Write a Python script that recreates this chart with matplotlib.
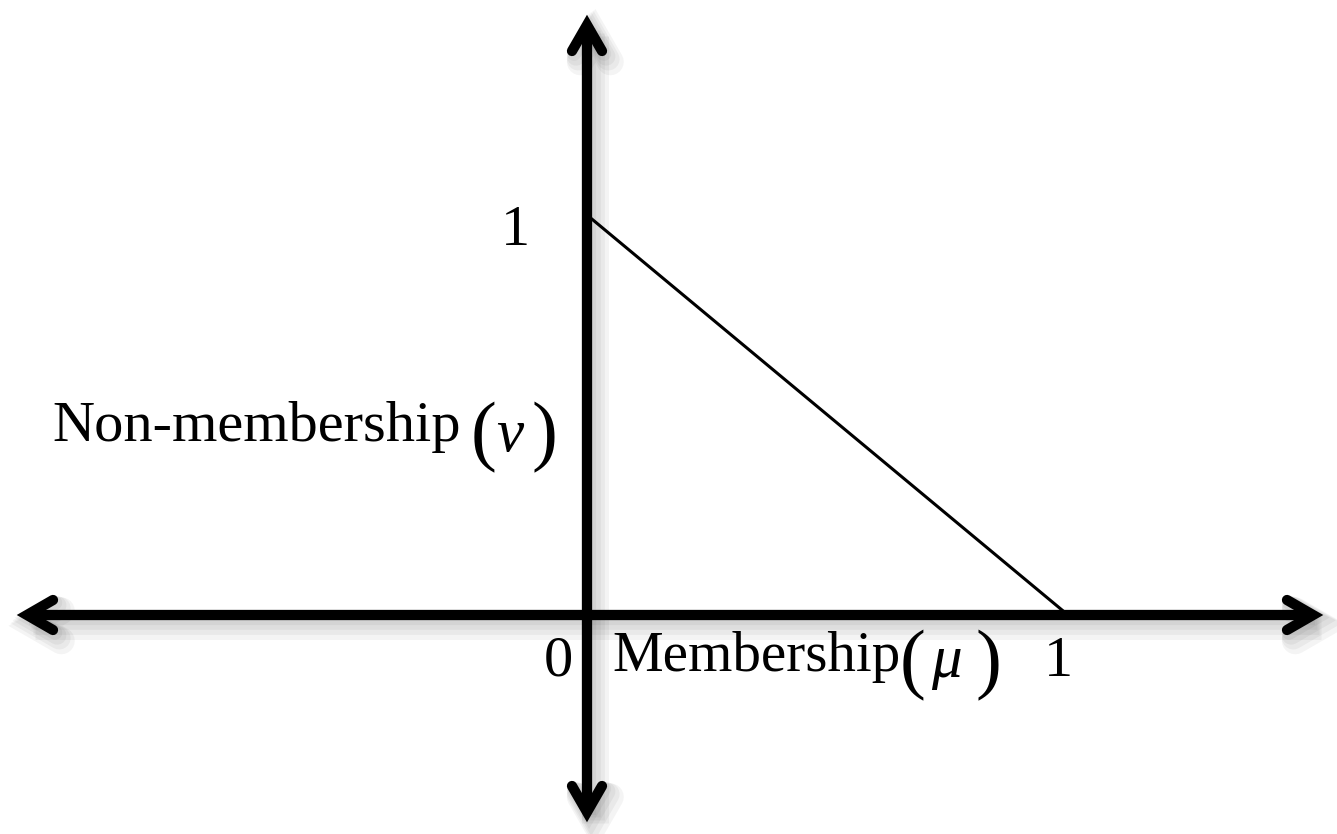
import matplotlib
matplotlib.use('Agg')
import matplotlib.pyplot as plt
import matplotlib.patheffects as pe

# Data: the boundary line nu = 1 - mu
mu_vals = [0, 1]
nu_vals = [1, 0]
x_tick_vals = [0, 1]
x_tick_labels = ['0', '1']
y_tick_vals = [1]
y_tick_labels = ['1']
x_label = 'Membership'
y_label = 'Non-membership'
x_sym = '\u03bc'
y_sym = '\u03bd'

W, H = 1337, 834
fig = plt.figure(figsize=(W / 100, H / 100), dpi=100)
ax = fig.add_axes([0, 0, 1, 1])
ox, oy = 587, 615   # pixel of origin
ux, uy = 481, 400   # pixels per unit
ax.set_xlim(-ox / ux, (W - ox) / ux)
ax.set_ylim(-(H - oy) / uy, oy / uy)
ax.axis('off')


def X(px):
    return (px - ox) / ux


def Y(py):
    return (oy - py) / uy


SERIF = 'Liberation Serif'
LW = 7.4
shadow = [pe.SimpleLineShadow(offset=(o, -o * 1.3), shadow_color='k', alpha=0.045,
                              linewidth=LW + 2 * o)
          for o in (1.5, 3, 4.5, 6)] + [pe.Normal()]

# boundary line
ax.plot(mu_vals, nu_vals, color='black', lw=2.2, solid_capstyle='butt', zorder=2)

# axes lines with double arrows
inset, back, perp = 10, 26, 15
# horizontal
lx, rx = 17 + inset, 1323 - inset
ax.plot([X(lx), X(rx)], [0, 0], color='black', lw=LW, solid_capstyle='butt',
        zorder=3, path_effects=shadow)
for tipx, s in ((lx, 1), (rx, -1)):
    ax.plot([X(tipx + s * back), X(tipx), X(tipx + s * back)],
            [Y(oy - perp), 0, Y(oy + perp)], color='black', lw=LW,
            solid_capstyle='round', solid_joinstyle='miter', zorder=3,
            path_effects=shadow)
# vertical
ty, by = 15 + inset, 822 - inset
ax.plot([0, 0], [Y(ty), Y(by)], color='black', lw=LW, solid_capstyle='butt',
        zorder=3, path_effects=shadow)
for tipy, s in ((ty, 1), (by, -1)):
    ax.plot([X(ox - perp), 0, X(ox + perp)],
            [Y(tipy + s * back), Y(tipy), Y(tipy + s * back)], color='black', lw=LW,
            solid_capstyle='round', solid_joinstyle='miter', zorder=3,
            path_effects=shadow)

# tick labels
for v, lab in zip(x_tick_vals, x_tick_labels):
    ax.text(v - 0.06 if v == 0 else v - 0.02, Y(676), lab, family=SERIF, fontsize=42,
            ha='center', va='baseline')
for v, lab in zip(y_tick_vals, y_tick_labels):
    ax.text(X(515), v - 0.075, lab, family=SERIF, fontsize=42,
            ha='center', va='baseline')

# y label: Non-membership (nu)
ax.text(X(52), Y(441), y_label, family=SERIF, fontsize=42, ha='left', va='baseline')
ax.text(X(471), Y(456), '(', family=SERIF, fontsize=56, ha='left', va='baseline')
ax.text(X(496), Y(451), y_sym, family=SERIF, style='italic', fontsize=44,
        ha='left', va='baseline')
ax.text(X(531), Y(456), ')', family=SERIF, fontsize=56, ha='left', va='baseline')

# x label: Membership(mu)
ax.text(X(612), Y(671), x_label, family=SERIF, fontsize=41, ha='left', va='baseline')
ax.text(X(900), Y(684), '(', family=SERIF, fontsize=56, ha='left', va='baseline')
ax.text(X(931), Y(677), x_sym, family=SERIF, style='italic', fontsize=44,
        ha='left', va='baseline')
ax.text(X(976), Y(684), ')', family=SERIF, fontsize=56, ha='left', va='baseline')

fig.savefig('out.png', dpi=100, facecolor='white')
